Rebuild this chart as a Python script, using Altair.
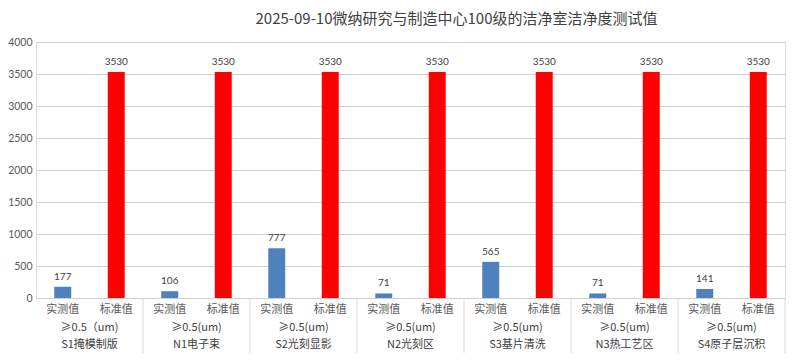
import altair as alt
import pandas as pd

title_text = "2025-09-10微纳研究与制造中心100级的洁净室洁净度测试值"
groups = ["S1掩模制版", "N1电子束", "S2光刻显影", "N2光刻区", "S3基片清洗", "N3热工艺区", "S4原子层沉积"]
size_labels = ["≥0.5（um)", "≥0.5(um)", "≥0.5(um)", "≥0.5(um)", "≥0.5(um)", "≥0.5(um)", "≥0.5(um)"]
measured = [177, 106, 777, 71, 565, 71, 141]
standard = [3530, 3530, 3530, 3530, 3530, 3530, 3530]
kinds = ["实测值", "标准值"]
y_ticks = [0, 500, 1000, 1500, 2000, 2500, 3000, 3500, 4000]

rows = []
for g, s, m, st in zip(groups, size_labels, measured, standard):
    rows.append({"key": g + "|" + kinds[0], "group": g, "size": s, "kind": kinds[0], "value": m})
    rows.append({"key": g + "|" + kinds[1], "group": g, "size": s, "kind": kinds[1], "value": st})
df = pd.DataFrame(rows)
keys = list(df["key"])
gdf = df[df["kind"] == kinds[0]].copy()
sdf = df[df["kind"] == kinds[1]].copy()

W, H = 749, 256
step = W / len(keys)
xs = alt.X("key:N", sort=keys, axis=None,
           scale=alt.Scale(paddingInner=0.683, paddingOuter=0.3415))
ys = alt.Y("value:Q", scale=alt.Scale(domain=[0, 4000]),
           axis=alt.Axis(values=y_ticks, format="d", title=None, domain=False, ticks=False,
                         labelOverlap=False, labelPadding=4, labelFontSize=10.5,
                         labelColor="#595959", labelFont="Lato",
                         gridColor="#D0D0D0", gridWidth=1))

base = alt.Chart(df)
bars = base.mark_bar().encode(
    x=xs, y=ys,
    color=alt.Color("kind:N", scale=alt.Scale(domain=kinds, range=["#4F81BD", "#FF0000"]), legend=None),
)
vals = base.mark_text(baseline="bottom", dy=-5, fontSize=10, color="#404040", font="Lato").encode(
    x=xs, y=ys, text=alt.Text("value:Q", format="d")
)
kind_lbl = base.mark_text(baseline="middle", fontSize=11, color="#595959", font="Noto Sans CJK SC").encode(
    x=xs, y=alt.value(268), text="kind:N"
)
size_lbl = alt.Chart(gdf).mark_text(baseline="middle", fontSize=11, color="#404040",
                                    font="Noto Sans CJK SC", xOffset=step / 2).encode(
    x=xs, y=alt.value(286), text="size:N"
)
grp_lbl = alt.Chart(gdf).mark_text(baseline="middle", fontSize=11, color="#404040",
                                   font="Noto Sans CJK SC", xOffset=step / 2).encode(
    x=xs, y=alt.value(303), text="group:N"
)
seps = alt.Chart(sdf).mark_rule(color="#D9D9D9", strokeWidth=1, xOffset=step / 2).encode(
    x=xs, y=alt.value(256), y2=alt.value(313)
)

chart = alt.layer(bars, vals, kind_lbl, size_lbl, grp_lbl, seps).properties(
    width=W, height=H,
    autosize=alt.AutoSizeParams(type="none"),
    padding={"left": 28, "top": 34, "right": 3, "bottom": 55},
    title=alt.TitleParams(title_text, fontSize=15, color="#404040", font="Noto Sans CJK SC",
                          fontWeight="normal", anchor="middle", dx=46, offset=10),
).configure_view(
    fill="#F3F3F3", stroke="#8FAADC", strokeWidth=1
).configure(background="white")

chart.save("out.html", embed_options={"renderer": "svg", "actions": False})
